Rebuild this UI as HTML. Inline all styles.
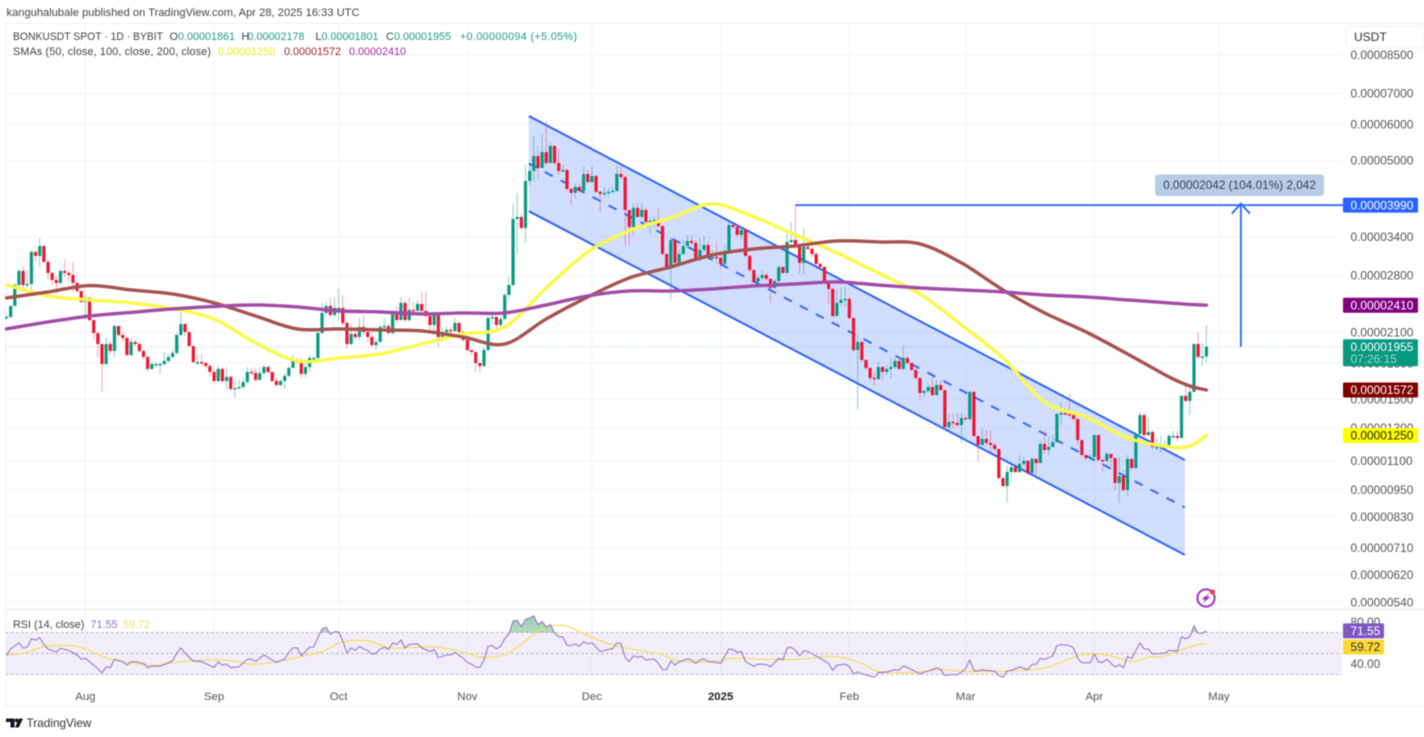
<!DOCTYPE html>
<html lang="en">
<head>
<meta charset="utf-8">
<title>BONKUSDT chart</title>
<style>
html,body{margin:0;padding:0;background:#fff;width:1424px;height:737px;overflow:hidden}
svg{display:block;font-family:"Liberation Sans",sans-serif}
#root{filter:blur(.4px)}
</style>
</head>
<body>
<svg id="root" width="1424" height="737" viewBox="0 0 1424 737">
  <defs>
    <linearGradient id="obFill" x1="0" y1="0" x2="0" y2="1">
      <stop offset="0" stop-color="#2e9e5b" stop-opacity=".5"/>
      <stop offset="1" stop-color="#2e9e5b" stop-opacity=".03"/>
    </linearGradient>
    <clipPath id="obClip"><rect x="6" y="612" width="1336" height="20.5"/></clipPath>
  </defs>
  <text x="6.5" y="16" font-size="11.1" textLength="353" lengthAdjust="spacing" fill="#444">kanguhalubale published on TradingView.com, Apr 28, 2025 16:33 UTC</text>

  <g id="frame">
    <path d="M1424 23.5 H6 V706.5 H1424" fill="none" stroke="#f0f0f2" stroke-width="1"/>
  </g>
  <g id="grid"></g>
  <g id="rsiPane"></g>
  <g id="drawings"></g>
  <g id="candles"></g>
  <g id="smas"></g>
  <g id="target"></g>
  <g id="axis"></g>
  <g id="timeAxis"></g>

  <g font-size="10.8">
    <text x="13" y="40" fill="#444" textLength="150" lengthAdjust="spacingAndGlyphs">BONKUSDT SPOT · 1D · BYBIT</text>
    <text x="169.5" y="40" fill="#444">O</text>
    <text x="178" y="40" fill="#1d9c86">0.00001861</text>
    <text x="241.5" y="40" fill="#444">H</text>
    <text x="247.5" y="40" fill="#1d9c86">0.00002178</text>
    <text x="315.5" y="40" fill="#444">L</text>
    <text x="321.5" y="40" fill="#1d9c86">0.00001801</text>
    <text x="386" y="40" fill="#444">C</text>
    <text x="394" y="40" fill="#1d9c86">0.00001955</text>
    <text x="460" y="40" fill="#1d9c86" textLength="117" lengthAdjust="spacing">+0.00000094 (+5.05%)</text>
    <text x="13" y="55" fill="#444" textLength="198" lengthAdjust="spacing">SMAs (50, close, 100, close, 200, close)</text>
    <text x="218" y="55" fill="#ecec1e">0.00001250</text>
    <text x="284" y="55" fill="#a3262a">0.00001572</text>
    <text x="349" y="55" fill="#a52bb0">0.00002410</text>
  </g>

  <g>
    <rect x="1346" y="26" width="78" height="22" rx="4" fill="#fff" stroke="#f0f0f2"/>
    <text x="1354" y="41" font-size="12" fill="#333">USDT</text>
  </g>

  <g>
    <circle cx="1206" cy="598" r="8.6" fill="#fff" stroke="#a32cc4" stroke-width="2"/>
    <path d="M1210 592.5 L1201.5 599.4 L1205.4 599.4 L1202.5 603.5 L1210.6 596.8 L1206.6 596.8 Z" fill="#a32cc4"/>
    <circle cx="1212.4" cy="592" r="2.5" fill="#f23645"/>
  </g>

  <g>
    <path d="M6 718.5 H14.5 V727.5 H10.5 V722 H6 Z M19 718.5 H23 L18.8 727.5 H15 Z" fill="#131722"/>
    <circle cx="16.6" cy="720.4" r="1.9" fill="#131722"/>
    <text x="26.5" y="727" font-size="11.8" fill="#333">TradingView</text>
  </g>
</svg>

<script>
// ---------- data (prices in units of 0.00000001) ----------
const firstOpen = 2262;
const closes = [
2271,2401,2668,2864,2668,2682,3152,3089,3248,2997,
2835,2737,2696,2864,2835,2806,2696,2589,2450,2500,
2237,2095,1982,1792,1982,1914,2170,2074,2043,1875,
2002,1982,1914,1857,1748,1792,1792,1792,1820,1857,
1895,2074,2192,2106,1962,1810,1810,1801,1774,1722,
1645,1748,1645,1679,1580,1588,1596,1637,1722,1713,
1654,1713,1765,1722,1645,1612,1645,1688,1757,1829,
1829,1705,1765,1847,1847,2095,2318,2401,2294,2377,
2377,2204,1982,2085,2053,2160,2106,2053,1972,2002,
2160,2170,2095,2330,2237,2438,2237,2354,2342,2425,
2342,2282,2181,2294,2053,2106,2128,2117,2204,2106,
2023,1923,1904,1801,1774,1923,2260,2271,2181,2249,
2537,2668,3722,3759,3557,4507,4740,5111,4812,5214,
4933,5375,4933,4740,4764,4330,4245,4373,4288,4668,
4482,4620,4266,4222,4245,4266,4288,4668,4597,3895,
3575,3934,3759,3895,3666,3685,3704,3592,3120,2922,
3348,2982,3120,3248,3331,3298,3028,3184,3264,3058,
3074,3058,2967,3168,3610,3575,3433,3522,3089,2878,
2710,2765,2806,2751,2629,2723,2922,2835,3314,3348,
3232,2982,3232,3200,3120,2967,2922,2710,2616,2282,
2438,2475,2487,2260,1923,2002,1829,1757,1671,1662,
1765,1722,1748,1765,1820,1748,1847,1801,1739,1671,
1549,1564,1596,1533,1612,1572,1305,1339,1332,1318,
1366,1359,1557,1247,1192,1229,1204,1192,1168,1009,
969,1040,1066,1040,1083,1100,1035,1111,1088,1198,
1162,1180,1210,1393,1400,1393,1386,1359,1222,1133,
1116,1122,1253,1105,1100,1139,1116,984,1019,950,
1111,1061,1259,1386,1253,1272,1180,1180,1186,1192,
1247,1247,1235,1526,1488,1557,1982,1857,1861,1955];
const highs = [
2294,2413,2696,2893,2936,2878,3184,3184,3382,3248,
3028,2850,2792,2893,3043,2878,2997,2696,2563,2537,
2512,2237,2095,1982,2043,2012,2181,2181,2106,2053,
2043,2023,1992,1923,1866,1810,1810,1810,1904,1885,
1923,2095,2330,2204,2095,1962,1885,1885,1810,1792,
1757,1774,1765,1765,1696,1662,1654,1671,1765,1757,
1765,1765,1783,1774,1722,1671,1662,1705,1774,1875,
1847,1847,1810,1875,1866,2106,2438,2450,2500,2512,
2629,2537,2215,2181,2149,2260,2294,2149,2128,2043,
2181,2260,2192,2354,2401,2512,2475,2500,2450,2475,
2576,2576,2294,2318,2306,2149,2160,2160,2260,2215,
2117,2023,1923,1904,1801,1952,2282,2342,2282,2282,
2563,2778,4013,4241,3817,4884,4884,5653,5375,5710,
6098,5456,5402,5295,4884,4788,4352,4460,4460,4860,
4764,4860,4644,4288,4373,4352,4373,4860,4860,4620,
3895,4033,4033,4033,3934,3741,3778,3934,3592,3120,
3399,3348,3184,3348,3433,3433,3348,3382,3416,3348,
3184,3298,3104,3264,3685,3666,3610,3557,3539,3104,
2893,2792,2878,2835,2765,2751,2951,2936,3451,3666,
3973,3248,3557,3264,3232,3152,2982,2936,2723,2629,
2603,2642,2642,2512,2260,2074,2012,1829,1757,1722,
1810,1774,1783,1847,1847,1857,1972,1866,1810,1748,
1671,1580,1629,1696,1654,1654,1572,1393,1393,1400,
1400,1379,1564,1564,1247,1298,1285,1285,1204,1168,
1009,1077,1094,1088,1133,1122,1105,1122,1116,1216,
1279,1241,1253,1400,1480,1436,1541,1393,1359,1222,
1139,1139,1259,1259,1116,1151,1145,1116,1122,1050,
1133,1116,1272,1408,1400,1372,1285,1235,1247,1222,
1259,1279,1279,1533,1612,1588,1992,2106,1992,2178];
const lows = [
2237,2260,2401,2655,2603,2642,2589,2997,2922,2982,
2751,2668,2550,2682,2765,2710,2576,2563,2438,2237,
2215,2023,1847,1557,1783,1875,1857,2053,2002,1866,
1866,1962,1895,1829,1722,1739,1765,1705,1774,1801,
1847,1875,2064,2064,1952,1801,1783,1783,1757,1679,
1637,1637,1629,1572,1564,1510,1580,1580,1620,1696,
1637,1654,1696,1705,1637,1604,1596,1580,1679,1757,
1792,1671,1679,1722,1801,1810,2085,2294,2271,2271,
2237,2181,1933,1972,2023,2023,2074,2002,1952,1923,
2002,2149,2074,2074,2204,2237,2215,2226,2306,2342,
2330,2260,2128,2117,1952,2002,2074,2085,2095,2074,
2002,1904,1875,1722,1713,1765,1914,2181,2138,2138,
2237,2475,2655,3104,3522,3298,4394,4507,4553,4812,
4884,4933,4884,4644,4692,4288,3993,4117,4245,4245,
4438,4460,4245,3836,4158,4158,4245,4266,4530,3248,
3248,3416,3741,3741,3629,3451,3575,3557,3089,2878,
2475,2951,2967,3104,3216,3264,3012,2997,3152,3028,
2997,2967,2907,2951,3152,3539,3399,3348,3074,2850,
2696,2682,2737,2723,2438,2616,2696,2820,2835,3281,
3200,2820,2820,3168,3074,2936,2893,2696,2425,2260,
2271,2401,2389,2237,1904,1422,1810,1739,1645,1604,
1654,1654,1696,1671,1748,1739,1739,1783,1731,1654,
1488,1518,1549,1518,1526,1564,1285,1285,1298,1305,
1204,1345,1345,1241,1094,1186,1186,1151,1157,1004,
960,890,1009,1035,1035,1072,1024,1030,1024,1088,
1139,1133,1180,1204,1318,1379,1372,1345,1192,1122,
1105,1100,1105,1094,1040,1088,1072,950,890,940,
921,1050,1056,1253,1241,1247,1168,1162,1145,1174,
1186,1229,1216,1229,1480,1386,1557,1838,1774,1801];

const smaDays = [0,10,20,30,40,50,60,70,80,90,100,110,120,130,140,150,160,170,180,190,200,210,220,230,240,250,260,270,280,285,289];
const sma50 = [2668,2525,2475,2438,2365,2249,1992,1820,1847,1885,1982,2085,2160,2629,3152,3504,3741,4013,3759,3433,3136,2835,2550,2181,1847,1480,1372,1235,1180,1186,1250];
const sma100 = [2500,2576,2661,2603,2550,2438,2282,2138,2138,2128,2117,2053,1982,2249,2512,2765,2922,3104,3200,3248,3331,3314,3281,2982,2603,2318,2106,1885,1679,1604,1572];
const sma200 = [2138,2215,2282,2324,2365,2395,2413,2389,2342,2330,2306,2318,2318,2413,2525,2589,2589,2616,2655,2682,2710,2668,2629,2603,2576,2537,2512,2475,2438,2419,2410];

const priceTicks = [8500,7000,6000,5000,3400,2800,2100,1800,1500,1300,1100,950,830,710,620,540];
const monthDays = [19,50,80,111,141,172,203,231,262,292];
const monthLabels = ["Aug","Sep","Oct","Nov","Dec","2025","Feb","Mar","Apr","May"];

const channelDays = [125.8,283.8];
const channelUpper = [6251,1105];
const channelLower = [3870,685];
const targetPrice = 3990;
const targetStartDay = 190;
const arrowDay = 297.3;
const lastPrice = 1955;

const rsiDays = [0,1,3,4,5,6,7,8,9,10,12,13,15,17,18,19,21,22,23,24,25,26,28,29,30,31,33,34,35,37,39,40,41,42,43,45,47,48,50,51,52,53,54,56,58,59,60,62,63,65,67,68,69,70,71,73,74,75,76,77,78,79,80,81,82,83,84,85,86,87,88,89,90,91,92,93,94,95,96,97,99,100,102,103,104,106,107,108,110,111,112,113,114,
115,116,117,118,119,120,121,122,123,124,125,126,127,128,129,130,131,132,133,134,135,136,137,138,139,140,141,143,144,146,147,148,149,150,151,152,153,154,156,157,158,159,160,161,162,164,165,166,167,168,169,170,172,174,175,176,177,178,180,181,183,184,186,187,188,189,190,191,192,193,194,196,198,199,200,202,203,204,205,206,209,210,212,214,215,216,217,220,222,224,225,226,228,
229,230,231,232,233,234,235,236,238,239,240,241,242,244,246,247,248,249,250,252,253,254,256,257,258,259,261,262,263,264,265,267,268,269,270,271,273,274,275,276,279,280,282,283,284,285,286,287,288,289];
const rsiValues = [47.8,54.3,60.2,55.3,56,64.1,62.8,65.1,58.6,54.3,51.4,55,53,48.7,44.5,45.5,38.9,35.6,31.4,37.3,36.6,44.5,42.2,38.9,42.2,42.2,40.5,36.6,37.9,37.9,41.2,43.2,50.4,55.3,50.4,42.8,42.2,40.5,36.6,42.2,38.9,39.9,36.6,37.3,44.5,44.8,42.2,48.7,46.1,41.5,44.8,51,55.3,55.3,47.8,56,56.3,65.1,73.3,75,68.4,70.7,70.7,61.9,50.4,55.3,53,56.9,54.3,53,49.4,50.4,54.3,56,53.7,60.2,58.6,62.8,55.3,58.6,59.2,55.3,52,53.7,46.1,48.7,48.7,51,45.5,41.5,39.9,37.3,36.6,
43.8,56.9,57.6,54.3,56.9,64.1,68.4,80.9,81.5,75.6,82.5,83.8,85.8,77.6,80.5,75,77.6,69.4,65.8,65.8,57.9,57.6,58.9,56.9,61.2,59.2,60.2,52,53,54.6,60.2,59.2,46.4,42.2,47.8,46.4,47.1,43.8,44.8,40.5,34.6,34.6,42.8,38.9,42.2,44.8,43.8,40.5,43.8,44.8,42.2,42.2,40.5,54.3,53.7,51,52,42.2,37.9,39.9,39.6,37.3,45.5,43.8,55.3,56,53,47.8,52.7,52,49.7,45.5,40.5,34,38.9,39.9,37.3,30.7,32.3,30.7,27.4,31.7,32.3,34.6,34,38.2,36.6,30.7,33.3,36.3,34.6,29.1,30,
29.6,32.3,35.6,43.7,33.9,33.3,34.6,33.9,33.3,29,27.4,33.3,33.9,37.2,34.6,39.8,39.8,45.4,44.4,47.7,57.5,58.5,57.5,55.2,45.4,41.1,41.1,49.6,42.1,41.5,44.4,37.2,39.2,36.5,47,45.4,60.1,54.2,54.2,49.6,50.3,52.9,52.3,66,64.1,66,76.5,69.3,69.3,71.55];
const rsiMaDays = [0,4,9,15,19,25,31,35,40,45,53,59,65,71,76,81,87,93,103,111,114,119,122,127,130,134,137,143,149,157,162,170,175,182,191,197,201,206,210,218,225,230,238,247,251,258,262,266,271,275,279,285,289];
const rsiMaValues = [48.7,50.4,56.3,57.6,54.3,44.5,40.5,38.9,41.2,43.2,43.8,39.9,42.2,47.1,52,60.9,61.9,55.3,56.3,50.4,46.4,47.8,53,68.4,75,76.6,72.7,61.9,55.3,49.7,42.8,42.2,45.5,44.5,44.5,47.1,46.4,40.5,33,32,34.6,33,32.9,34.6,37.2,47.7,49.3,47.7,42.4,46.4,47.7,56.2,59.72];
const rsiLevels = [70,50,30];
const rsiTicks = [80,40];

// ---------- axes ----------
const NS = "http://www.w3.org/2000/svg";
const xOf = i => 6.5 + 4.152 * i;
const yOf = p => 55 + 198.5 * Math.log(8500 / p);
const yRsi = v => 632.5 + (70 - v) * 1.05;
const fmt = p => (p * 1e-8).toFixed(8);
const PANE_R = 1342;

function el(parent, tag, attrs, txt) {
  const e = document.createElementNS(NS, tag);
  for (const k in attrs) e.setAttribute(k, attrs[k]);
  if (txt !== undefined) e.textContent = txt;
  parent.appendChild(e);
  return e;
}
function linePath(pts) {
  return pts.map((p, i) => (i ? "L" : "M") + p[0].toFixed(2) + " " + p[1].toFixed(2)).join(" ");
}
function smoothPath(pts) {
  let d = "M" + pts[0][0].toFixed(2) + " " + pts[0][1].toFixed(2);
  for (let i = 0; i < pts.length - 1; i++) {
    const p0 = pts[Math.max(0, i - 1)], p1 = pts[i], p2 = pts[i + 1], p3 = pts[Math.min(pts.length - 1, i + 2)];
    const c1x = p1[0] + (p2[0] - p0[0]) / 6, c1y = p1[1] + (p2[1] - p0[1]) / 6;
    const c2x = p2[0] - (p3[0] - p1[0]) / 6, c2y = p2[1] - (p3[1] - p1[1]) / 6;
    d += " C" + c1x.toFixed(2) + " " + c1y.toFixed(2) + " " + c2x.toFixed(2) + " " + c2y.toFixed(2) + " " + p2[0].toFixed(2) + " " + p2[1].toFixed(2);
  }
  return d;
}

// ---------- grid ----------
const gGrid = document.getElementById("grid");
priceTicks.forEach(p => {
  const l = el(gGrid, "line", {x1: 6, x2: PANE_R, y1: yOf(p), y2: yOf(p), stroke: "#f4f4f6", "stroke-width": 1});
  
  
});
monthDays.forEach(d => {
  const l = el(gGrid, "line", {x1: xOf(d), x2: xOf(d), y1: 24, y2: 683, stroke: "#f4f4f6", "stroke-width": 1});
  
  
});
const sep = el(gGrid, "line", {x1: 6, x2: 1424, y1: 609.5, y2: 609.5, stroke: "#ececef", "stroke-width": 1.2});


const lastLine = el(gGrid, "line", {x1: 6, x2: PANE_R, y1: yOf(lastPrice), y2: yOf(lastPrice), stroke: "#a9dccf", "stroke-width": 1, "stroke-dasharray": "1 1.5"});



// ---------- channel ----------
const gDraw = document.getElementById("drawings");
const cx0 = xOf(channelDays[0]), cx1 = xOf(channelDays[1]);
const chanFill = el(gDraw, "polygon", {
  points: [[cx0, yOf(channelUpper[0])], [cx1, yOf(channelUpper[1])], [cx1, yOf(channelLower[1])], [cx0, yOf(channelLower[0])]].map(p => p.join(",")).join(" "),
  fill: "#2962ff", "fill-opacity": ".21"
});


const chanUp = el(gDraw, "line", {x1: cx0, x2: cx1, y1: yOf(channelUpper[0]), y2: yOf(channelUpper[1]), stroke: "#2962ff", "stroke-width": 2});


const chanLow = el(gDraw, "line", {x1: cx0, x2: cx1, y1: yOf(channelLower[0]), y2: yOf(channelLower[1]), stroke: "#2962ff", "stroke-width": 2});


const chanMid = el(gDraw, "line", {
  x1: cx0, x2: cx1,
  y1: yOf(Math.sqrt(channelUpper[0] * channelLower[0])),
  y2: yOf(Math.sqrt(channelUpper[1] * channelLower[1])),
  stroke: "#2962ff", "stroke-width": 1.9, "stroke-dasharray": "9 9"
});



// ---------- candles ----------
const gC = document.getElementById("candles");
closes.forEach((c, i) => {
  const o = i === 0 ? firstOpen : closes[i - 1];
  const up = c >= o;
  const x = xOf(i);
  const g = el(gC, "g", {});
  
  
  const wick = el(g, "line", {x1: x, x2: x, y1: yOf(highs[i]), y2: yOf(lows[i]), stroke: up ? "#089981" : "#f23645", "stroke-opacity": ".42", "stroke-width": 1.1});
  
  
  const top = yOf(Math.max(o, c)), bot = yOf(Math.min(o, c));
  const body = el(g, "rect", {x: x - 1.6, y: top, width: 3.2, height: Math.max(1.4, bot - top), fill: up ? "#089981" : "#f0142f"});
  
  
});

// ---------- SMAs ----------
const gS = document.getElementById("smas");
const sma50Line = el(gS, "path", {d: smoothPath(smaDays.map((d, k) => [xOf(d), yOf(sma50[k])])), fill: "none", stroke: "#fbf94b", "stroke-width": 3.4, "stroke-linecap": "round"});


const sma100Line = el(gS, "path", {d: smoothPath(smaDays.map((d, k) => [xOf(d), yOf(sma100[k])])), fill: "none", stroke: "#a5534f", "stroke-width": 3.4, "stroke-linecap": "round"});


const sma200Line = el(gS, "path", {d: smoothPath(smaDays.map((d, k) => [xOf(d), yOf(sma200[k])])), fill: "none", stroke: "#a24ca8", "stroke-width": 3.4, "stroke-linecap": "round"});



// ---------- target drawing ----------
const gT = document.getElementById("target");
const ty = yOf(targetPrice);
const tLine = el(gT, "line", {x1: xOf(targetStartDay), x2: PANE_R + 1, y1: ty, y2: ty, stroke: "#2962ff", "stroke-width": 1.8});


const ax = xOf(arrowDay);
const aLine = el(gT, "line", {x1: ax, x2: ax, y1: yOf(lastPrice), y2: ty - 1, stroke: "#2962ff", "stroke-width": 1.8});


const aHead = el(gT, "path", {d: "M" + (ax - 9) + " " + (ty + 8.5) + " L" + ax + " " + (ty - 1.5) + " L" + (ax + 9) + " " + (ty + 8.5), fill: "none", stroke: "#2962ff", "stroke-width": 1.8});


const pill = el(gT, "rect", {x: 1155, y: 174.5, width: 169, height: 21.5, rx: 3.5, fill: "#b9cce5"});


const pillText = el(gT, "text", {x: 1239.5, y: 189, "font-size": 11.8, "text-anchor": "middle", fill: "#3b4350"}, "0.00002042 (104.01%) 2,042");



// ---------- RSI pane ----------
const gR = document.getElementById("rsiPane");
const band = el(gR, "rect", {x: 6, y: yRsi(70), width: PANE_R - 6, height: yRsi(30) - yRsi(70), fill: "#7e57c2", "fill-opacity": ".1"});


rsiLevels.forEach(v => {
  const l = el(gR, "line", {x1: 6, x2: PANE_R, y1: yRsi(v), y2: yRsi(v), stroke: "#b4b2bb", "stroke-width": 1, "stroke-dasharray": "2.5 2.5"});
  
  
});
const rsiPts = rsiDays.map((d, k) => [xOf(d), yRsi(rsiValues[k])]);
const obArea = el(gR, "path", {
  d: linePath(rsiPts) + " L" + xOf(rsiDays[rsiDays.length - 1]) + " " + yRsi(70) + " L" + xOf(rsiDays[0]) + " " + yRsi(70) + " Z",
  fill: "url(#obFill)", "clip-path": "url(#obClip)"
});


const rsiMaLine = el(gR, "path", {d: smoothPath(rsiMaDays.map((d, k) => [xOf(d), yRsi(rsiMaValues[k])])), fill: "none", stroke: "#fdd95a", "stroke-width": 1.2});


const rsiLine = el(gR, "path", {d: linePath(rsiPts), fill: "none", stroke: "#9478d4", "stroke-width": 1.1, "stroke-linejoin": "round"});


const rsiTitle = el(gR, "text", {x: 13, y: 628, "font-size": 10.8, fill: "#444"}, "RSI (14, close)");


const rsiVal = el(gR, "text", {x: 90.5, y: 628, "font-size": 10.8, fill: "#8e6fd0"}, rsiValues[rsiValues.length - 1].toFixed(2));


const rsiMaVal = el(gR, "text", {x: 123, y: 628, "font-size": 10.8, fill: "#fdd95a"}, rsiMaValues[rsiMaValues.length - 1].toFixed(2));



// ---------- price axis ----------
const gA = document.getElementById("axis");
priceTicks.forEach(p => {
  const t = el(gA, "text", {x: 1350.5, y: yOf(p) + 4.2, "font-size": 11.9, fill: "#555"}, fmt(p));
  
  
});
rsiTicks.forEach(v => {
  const t = el(gA, "text", {x: 1350.5, y: yRsi(v) + 4.2, "font-size": 11.9, fill: "#555"}, v.toFixed(2));
  
  
});
function badge(name, value, bg, fg) {
  const y = yOf(value);
  const r = el(gA, "rect", {x: 1343, y: y - 7.5, width: 75, height: 15, rx: 1.5, fill: bg});
  
  
  const t = el(gA, "text", {x: 1350.5, y: y + 4.2, "font-size": 11.9, fill: fg}, fmt(value));
  
  
}
badge('target-price', targetPrice, '#2962ff', '#fff');
badge('sma-200', sma200[sma200.length - 1], '#800080', '#fff');
badge('sma-100', sma100[sma100.length - 1], '#800000', '#fff');
badge('sma-50', sma50[sma50.length - 1], '#ffff00', '#222');
const lpBox = el(gA, "rect", {x: 1343, y: yOf(lastPrice) - 7.5, width: 75, height: 27, rx: 1.5, fill: "#089981"});


const lpText = el(gA, "text", {x: 1350.5, y: yOf(lastPrice) + 4.2, "font-size": 11.9, fill: "#fff"}, fmt(lastPrice));


const cdText = el(gA, "text", {x: 1350.5, y: yOf(lastPrice) + 16.5, "font-size": 11.9, fill: "#9fd8ca"}, "07:26:15");


const rsiBadgeBox = el(gA, "rect", {x: 1343, y: yRsi(rsiValues[rsiValues.length - 1]) - 7.5, width: 41, height: 15, rx: 1.5, fill: "#7e57c2"});


const rsiBadgeText = el(gA, "text", {x: 1350.5, y: yRsi(rsiValues[rsiValues.length - 1]) + 4.2, "font-size": 11.9, fill: "#fff"}, rsiValues[rsiValues.length - 1].toFixed(2));


const rsiMaBadgeBox = el(gA, "rect", {x: 1343, y: 639.5, width: 41, height: 15, rx: 1.5, fill: "#fdd835"});


const rsiMaBadgeText = el(gA, "text", {x: 1350.5, y: 651.2, "font-size": 11.9, fill: "#333"}, rsiMaValues[rsiMaValues.length - 1].toFixed(2));



// ---------- time axis ----------
const gTime = document.getElementById("timeAxis");
monthDays.forEach((d, k) => {
  const bold = monthLabels[k] === "2025";
  const t = el(gTime, "text", {x: xOf(d), y: 700, "font-size": 11.4, "text-anchor": "middle", fill: bold ? "#222" : "#555", "font-weight": bold ? 700 : 400}, monthLabels[k]);
  
  
});
</script>
</body>
</html>
